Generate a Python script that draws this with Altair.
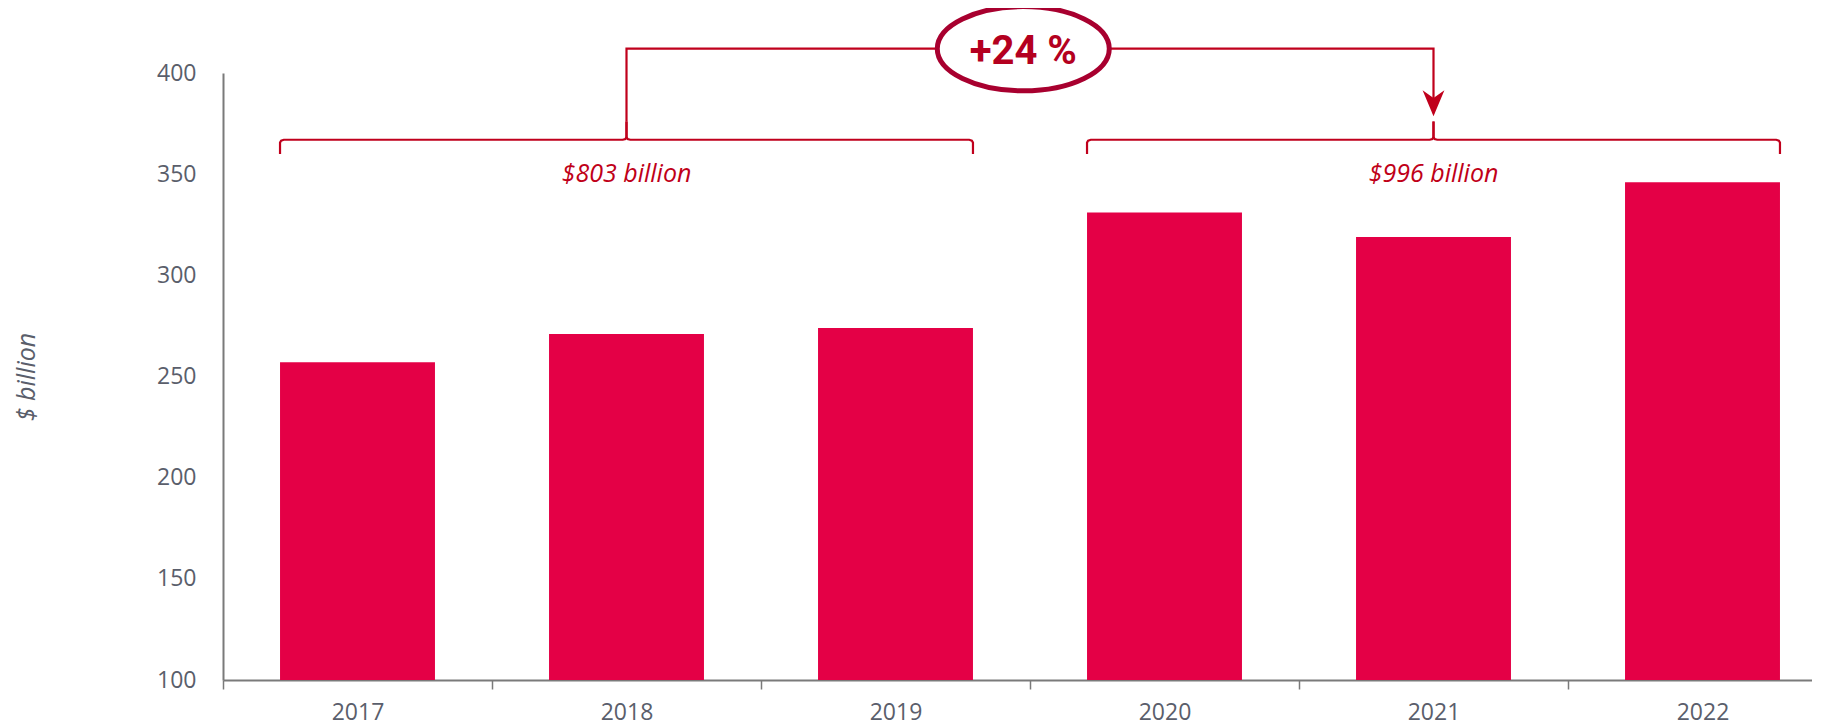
import altair as alt
import pandas as pd

# ---------------- data ----------------
years = ["2017", "2018", "2019", "2020", "2021", "2022"]
values = [257, 271, 274, 331, 319, 346]

group_labels = ["$803 billion", "$996 billion"]
group_first = [0, 3]   # index of first year of each period
group_last = [2, 5]    # index of last year of each period
growth_label = "+24 %"

y_domain = [100, 400]
y_ticks = [100, 150, 200, 250, 300, 350, 400]

# ---------------- style / layout ----------------
BAR_C = "#E40046"
LINE_C = "#C0001C"
OVAL_C = "#A8002F"
AXIS_C = "#7A7A7A"
LABEL_C = "#5A5E6B"
FONT = "Open Sans"

BAR_FRAC = 0.576
STEP = 269
RANGE_W = STEP * len(years)
PLOT_W = 1589
PLOT_H = 607

BRACKET_Y = 367.0
BRACKET_END_Y = 360.0
CUSP_Y = 376.0
TOP_Y = 412.0
ARROW_TIP_Y = 378.6
LABEL_Y = 350.0
OVAL_X = 2.475
OVAL_W = 172
OVAL_RATIO = 0.49

bars_df = pd.DataFrame({"year": years, "value": values})

# bracket + connector polylines
rows = []
d = 0.014
seg = 0
for f, l in zip(group_first, group_last):
    x0 = f - BAR_FRAC / 2
    x1 = l + BAR_FRAC / 2
    xc = (f + l) / 2
    left = [(x0, BRACKET_END_Y), (x0, BRACKET_Y - 1.4), (x0 + d * 0.3, BRACKET_Y - 0.4),
            (x0 + d, BRACKET_Y), (xc - d, BRACKET_Y), (xc - d * 0.3, BRACKET_Y + 0.4),
            (xc, BRACKET_Y + 1.4), (xc, CUSP_Y)]
    right = [(x1, BRACKET_END_Y), (x1, BRACKET_Y - 1.4), (x1 - d * 0.3, BRACKET_Y - 0.4),
             (x1 - d, BRACKET_Y), (xc + d, BRACKET_Y), (xc + d * 0.3, BRACKET_Y + 0.4),
             (xc, BRACKET_Y + 1.4), (xc, CUSP_Y)]
    for pts in (left, right):
        for i, (x, y) in enumerate(pts):
            rows.append({"seg": seg, "ord": i, "x": x, "y": y})
        seg += 1

xcL = (group_first[0] + group_last[0]) / 2
xcR = (group_first[1] + group_last[1]) / 2
conn = [(xcL, CUSP_Y), (xcL, TOP_Y), (xcR, TOP_Y), (xcR, ARROW_TIP_Y + 1.5)]
for i, (x, y) in enumerate(conn):
    rows.append({"seg": seg, "ord": i, "x": x, "y": y})
lines_df = pd.DataFrame(rows)

label_df = pd.DataFrame({
    "x": [(f + l) / 2 for f, l in zip(group_first, group_last)],
    "y": [LABEL_Y, LABEL_Y],
    "t": group_labels,
})
oval_df = pd.DataFrame({"x": [OVAL_X], "y": [TOP_Y], "t": [growth_label]})
arrow_df = pd.DataFrame({"x": [xcR], "y": [ARROW_TIP_Y]})

yscale = alt.Scale(domain=y_domain, nice=False, zero=False, clamp=False)
xq = alt.Scale(domain=[-0.5, len(years) - 0.5], range=[0, RANGE_W], nice=False, zero=False)

bars = alt.Chart(bars_df).mark_bar(color=BAR_C, width=alt.RelativeBandSize(BAR_FRAC)).encode(
    x=alt.X("year:N", sort=years,
            scale=alt.Scale(domain=years, range=[0, RANGE_W],
                            paddingInner=0, paddingOuter=0),
            axis=alt.Axis(title=None, labelAngle=0, domainColor=AXIS_C, domainWidth=2,
                          ticks=True, tickBand="extent", tickColor=AXIS_C, tickWidth=1.5,
                          tickSize=9, labelFont=FONT, labelFontSize=23, labelColor=LABEL_C,
                          labelPadding=12, grid=False)),
    y=alt.Y("value:Q", scale=yscale,
            axis=alt.Axis(values=y_ticks, title="$ billion", ticks=False, tickSize=0,
                          domainColor=AXIS_C, domainWidth=2, grid=False,
                          labelFont=FONT, labelFontSize=23, labelColor=LABEL_C,
                          labelPadding=27, titleFont=FONT, titleFontSize=25,
                          titleFontStyle="italic", titleFontWeight="normal",
                          titleColor=LABEL_C, titleX=-197, titleY=PLOT_H / 2,
                          titleAngle=270, titleAlign="center", titleBaseline="middle")),
    y2=alt.datum(y_domain[0]),
)

lines = alt.Chart(lines_df).mark_line(color=LINE_C, strokeWidth=2.2).encode(
    x=alt.X("x:Q", scale=xq, axis=None),
    y=alt.Y("y:Q", scale=yscale, axis=None),
    detail="seg:N",
    order="ord:Q",
)

ellipse_path = (f"M -1 0 A 1 {OVAL_RATIO:.3f} 0 1 0 1 0 "
                f"A 1 {OVAL_RATIO:.3f} 0 1 0 -1 0 Z")
oval = alt.Chart(oval_df).mark_point(
    shape=ellipse_path, size=OVAL_W ** 2, filled=True, fill="white", stroke=OVAL_C,
    strokeWidth=5, opacity=1, fillOpacity=1, strokeOpacity=1,
).encode(
    x=alt.X("x:Q", scale=xq, axis=None),
    y=alt.Y("y:Q", scale=yscale, axis=None),
)

growth = alt.Chart(oval_df).mark_text(
    font="Roboto", fontSize=40, fontWeight="bold", color="#B40020",
    baseline="middle", align="center", dy=3,
).encode(
    x=alt.X("x:Q", scale=xq, axis=None),
    y=alt.Y("y:Q", scale=yscale, axis=None),
    text="t:N",
)

arrow = alt.Chart(arrow_df).mark_point(
    shape="M 0 0 L -0.42 -1 L 0 -0.7 L 0.42 -1 Z", size=52 ** 2, filled=True,
    color=LINE_C, opacity=1, strokeWidth=0,
).encode(
    x=alt.X("x:Q", scale=xq, axis=None),
    y=alt.Y("y:Q", scale=yscale, axis=None),
)

labels = alt.Chart(label_df).mark_text(
    font=FONT, fontSize=25, fontStyle="italic", color="#C00018",
    baseline="middle", align="center",
).encode(
    x=alt.X("x:Q", scale=xq, axis=None),
    y=alt.Y("y:Q", scale=yscale, axis=None),
    text="t:N",
)

chart = alt.layer(bars, lines, arrow, oval, growth, labels).resolve_scale(
    x="independent"
).resolve_axis(
    x="independent", y="independent"
).properties(
    width=PLOT_W, height=PLOT_H,
    autosize=alt.AutoSizeParams(type="none"),
    padding={"left": 215, "top": 65, "right": 0, "bottom": 48},
).configure_view(stroke=None)

chart.save("out.html", embed_options={"renderer": "svg", "actions": False})
